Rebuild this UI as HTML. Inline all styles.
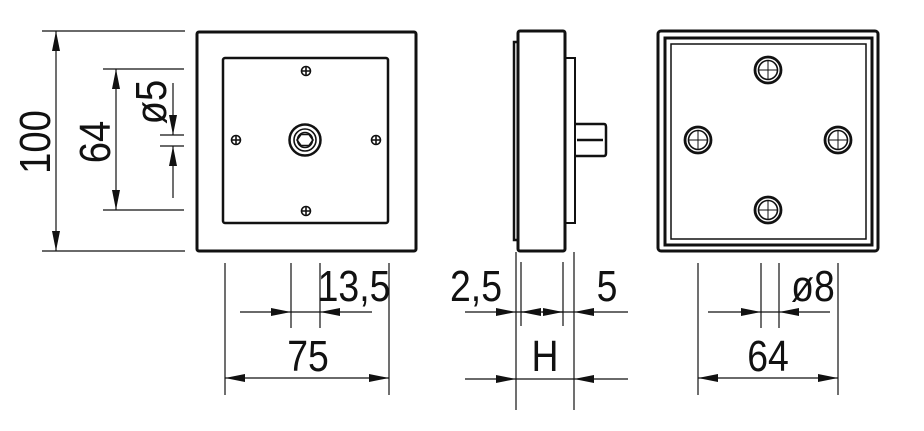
<!DOCTYPE html><html><head><style>html,body{margin:0;padding:0;background:#fff}svg{display:block}text{font-family:"Liberation Sans",sans-serif;fill:#111}</style></head><body>
<svg width="924" height="431" viewBox="0 0 924 431" xmlns="http://www.w3.org/2000/svg">
<defs>
<marker id="a" viewBox="0 0 20 8" refX="20" refY="4" markerWidth="20" markerHeight="8" markerUnits="userSpaceOnUse" orient="auto-start-reverse"><path d="M0,0L20,4L0,8z" fill="#111"/></marker>
</defs>
<g stroke="#111" fill="none">
<rect x="197" y="32" width="219" height="219" rx="2" stroke-width="3"/>
<rect x="223" y="58" width="165" height="165" rx="2" stroke-width="2.5"/>
<g stroke-width="1.6">
<circle cx="306" cy="71" r="4.5"/><path d="M301.5 71h9M306 66.5v9"/>
<circle cx="236" cy="140" r="4.5"/><path d="M231.5 140h9M236 135.5v9"/>
<circle cx="376" cy="140" r="4.5"/><path d="M371.5 140h9M376 135.5v9"/>
<circle cx="306" cy="211" r="4.5"/><path d="M301.5 211h9M306 206.5v9"/>
<circle cx="305" cy="140" r="15.5" stroke-width="2.5"/><circle cx="305" cy="140" r="11"/><circle cx="305" cy="140" r="7.5"/>
<path d="M301 134.5h8l4 5.5-4 5.5h-8l-4-5.5z"/>
</g>
<g stroke-width="1.2">
<path d="M42 31H185M42 251H185M103 69H184M103 210H184M160 135H184M160 146H184"/>
<path d="M56 31V251" marker-start="url(#a)" marker-end="url(#a)"/>
<path d="M116 69V210" marker-start="url(#a)" marker-end="url(#a)"/>
<path d="M173 83V135" marker-end="url(#a)"/>
<path d="M173 198V146" marker-end="url(#a)"/>
</g>
<rect x="518" y="31" width="47" height="220" rx="2" stroke-width="3"/>
<path d="M518 42H514V240H518" stroke-width="2.5"/>
<rect x="565" y="58" width="10" height="165" stroke-width="2"/>
<path d="M575 124H604Q606 124 606 127V153Q606 156 604 156H575M577 140H603" stroke-width="2.5"/>
<rect x="658" y="31" width="220" height="220" rx="3" stroke-width="3"/>
<rect x="665" y="38" width="207" height="207" stroke-width="3"/>
<rect x="671" y="44" width="195" height="195" stroke-width="1.5"/>
<g>
<g transform="translate(768 70)"><circle r="13" stroke-width="2.8"/><circle r="9.5" stroke-width="1.6"/><path d="M-9 0h18M0-9v18" stroke-width="1"/></g>
<g transform="translate(698 140)"><circle r="13" stroke-width="2.8"/><circle r="9.5" stroke-width="1.6"/><path d="M-9 0h18M0-9v18" stroke-width="1"/></g>
<g transform="translate(838 140)"><circle r="13" stroke-width="2.8"/><circle r="9.5" stroke-width="1.6"/><path d="M-9 0h18M0-9v18" stroke-width="1"/></g>
<g transform="translate(768 210)"><circle r="13" stroke-width="2.8"/><circle r="9.5" stroke-width="1.6"/><path d="M-9 0h18M0-9v18" stroke-width="1"/></g>
</g>
<g stroke-width="1.2">
<path d="M225 263V395M389 263V395M291 263V328M320 263V328"/>
<path d="M240 312H291" marker-end="url(#a)"/><path d="M372 312H320" marker-end="url(#a)"/><path d="M291 312H320"/>
<path d="M225 378H389" marker-start="url(#a)" marker-end="url(#a)"/>
<path d="M516 252V410M574 252V410M521 262V326M563 262V326"/>
<path d="M465 312H516" marker-end="url(#a)"/><path d="M540 312H521" marker-end="url(#a)"/><path d="M542 312H563" marker-end="url(#a)"/><path d="M628 312H574" marker-end="url(#a)"/><path d="M516 312H574"/>
<path d="M465 379H516" marker-end="url(#a)"/><path d="M628 379H574" marker-end="url(#a)"/><path d="M516 379H574"/>
<path d="M698 263V395M838 263V395M761 263V328M779 263V328"/>
<path d="M708 312H761" marker-end="url(#a)"/><path d="M830 312H779" marker-end="url(#a)"/><path d="M761 312H779"/>
<path d="M698 378H838" marker-start="url(#a)" marker-end="url(#a)"/>
</g>
</g>
<g font-size="44">
<text transform="translate(50 142) rotate(-90) scale(0.87 1)" text-anchor="middle">100</text>
<text transform="translate(110 142) rotate(-90) scale(0.87 1)" text-anchor="middle">64</text>
<text transform="translate(166 102) rotate(-90) scale(0.87 1)" text-anchor="middle">ø5</text>
<text transform="translate(354 301) scale(0.85 1)" text-anchor="middle">13,5</text>
<text transform="translate(308 371) scale(0.85 1)" text-anchor="middle">75</text>
<text transform="translate(476 301) scale(0.85 1)" text-anchor="middle">2,5</text>
<text transform="translate(607 301) scale(0.85 1)" text-anchor="middle">5</text>
<text transform="translate(545 371) scale(0.85 1)" text-anchor="middle">H</text>
<text transform="translate(813 301) scale(0.85 1)" text-anchor="middle">ø8</text>
<text transform="translate(768 371) scale(0.85 1)" text-anchor="middle">64</text>
</g>
</svg>
</body></html>
